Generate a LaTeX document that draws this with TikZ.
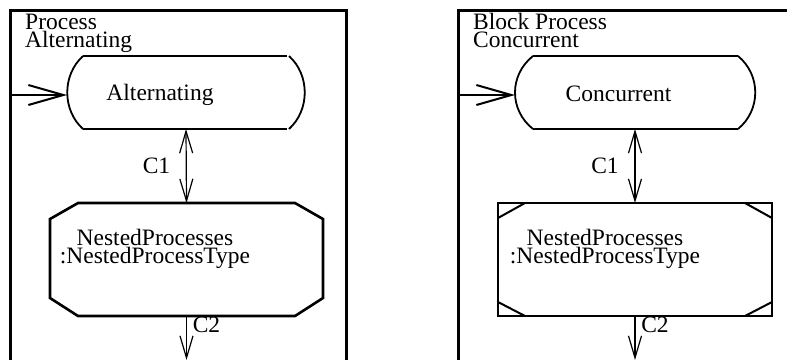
\documentclass[tikz,border=0pt]{standalone}
\usepackage{fontspec}
\setmainfont{Liberation Serif}
\usetikzlibrary{arrows.meta}

\begin{document}
\begin{tikzpicture}[x=1pt, y=-1pt,
  frame/.style={line width=3pt},
  boxline/.style={line width=2.6pt},
  arcline/.style={line width=1.8pt},
  cornerline/.style={line width=2pt},
  shapebox/.style={inner sep=0pt, outer sep=0pt, draw=none},
  txt/.style={font=\fontsize{23.5}{17.8}\selectfont, inner sep=0pt},
  inarrow/.style={line width=2pt, -{Straight Barb[length=35pt,width=20pt]}},
  chan/.style={line width=1.2pt, {Straight Barb[length=22pt,width=13pt]}-{Straight Barb[length=22pt,width=13pt]}},
  chanout/.style={line width=1.2pt, -{Straight Barb[length=22pt,width=13pt]}}]

  \useasboundingbox (0,0) rectangle (787,360);

  % --- 1. 左: Process Alternating ---
  \draw[frame] (10,360) -- (10,10) -- (346,10) -- (346,360);
  % (base = 最終行のベースライン)
  \node[txt, align=left, anchor=base west] (titleA) at (25,47) {Process\\Alternating};

  % 状態 Alternating
  \node[shapebox, minimum width=238pt, minimum height=73pt] (alt) at (186,92.5) {};
  \draw[boxline] (83,56) -- (287,56);
  \draw[boxline] (83,129) -- (287,129);
  \draw[arcline] (83,56) .. controls (62,75) and (62,110) .. (83,129);
  \draw[arcline] (289,56) .. controls (310,75) and (310,110) .. (289,129);
  \node[txt, anchor=base] (altText) at (160,100.5) {Alternating};

  % NestedProcesses (八角形)
  \node[shapebox, minimum width=273pt, minimum height=113pt] (nestA) at (186.5,259.5) {};
  \draw[boxline] (78,203) -- (295,203) -- (323,219) -- (323,298) -- (295,316)
    -- (78,316) -- (50,298) -- (50,219) -- cycle;
  \node[txt, align=center, anchor=base] (nestAText) at (155,263.5)
    {NestedProcesses\\:NestedProcessType};

  % 接続
  \coordinate (inA) at (10,95);
  \coordinate (outA) at ([yshift=-44pt]nestA.south);
  \draw[inarrow] (inA) -- (inA -| alt.west);
  \draw[chan] (alt.south) -- (nestA.north);
  \draw[chanout] (nestA.south) -- (outA);
  \node[txt, anchor=base] (c1A) at (156.5,173) {C1};
  \node[txt, anchor=base] (c2A) at (206.5,332) {C2};

  % --- 2. 右: Block Process Concurrent ---
  \draw[frame] (458,360) -- (458,10) -- (787,10);
  \node[txt, align=left, anchor=base west] (titleB) at (473,47) {Block Process\\Concurrent};

  % 状態 Concurrent
  \node[shapebox, minimum width=240pt, minimum height=73pt] (conc) at (635,92.5) {};
  \draw[boxline] (533,56) -- (738,56);
  \draw[boxline] (533,129) -- (738,129);
  \draw[arcline] (533,56) .. controls (509,75) and (509,110) .. (533,129);
  \draw[arcline] (738,56) .. controls (761,75) and (761,110) .. (738,129);
  \node[txt, anchor=base] (concText) at (618.5,101.7) {Concurrent};

  % NestedProcesses (ブロック)
  \node[shapebox, minimum width=274pt, minimum height=113pt] (nestB) at (635,259.5) {};
  \draw[boxline] (498,203) rectangle (772,316);
  \draw[cornerline] (525,203) -- (498,218);
  \draw[cornerline] (745,203) -- (772,218);
  \draw[cornerline] (498,302) -- (525,316);
  \draw[cornerline] (745,316) -- (772,302);
  \node[txt, align=center, anchor=base] (nestBText) at (605,263.5)
    {NestedProcesses\\:NestedProcessType};

  % 接続
  \coordinate (inB) at (458,95);
  \coordinate (outB) at ([yshift=-44pt]nestB.south);
  \draw[inarrow] (inB) -- (inB -| conc.west);
  \draw[chan] (conc.south) -- (nestB.north);
  \draw[chanout] (nestB.south) -- (outB);
  \node[txt, anchor=base] (c1B) at (605,173) {C1};
  \node[txt, anchor=base] (c2B) at (655,332) {C2};

\end{tikzpicture}
\end{document}
